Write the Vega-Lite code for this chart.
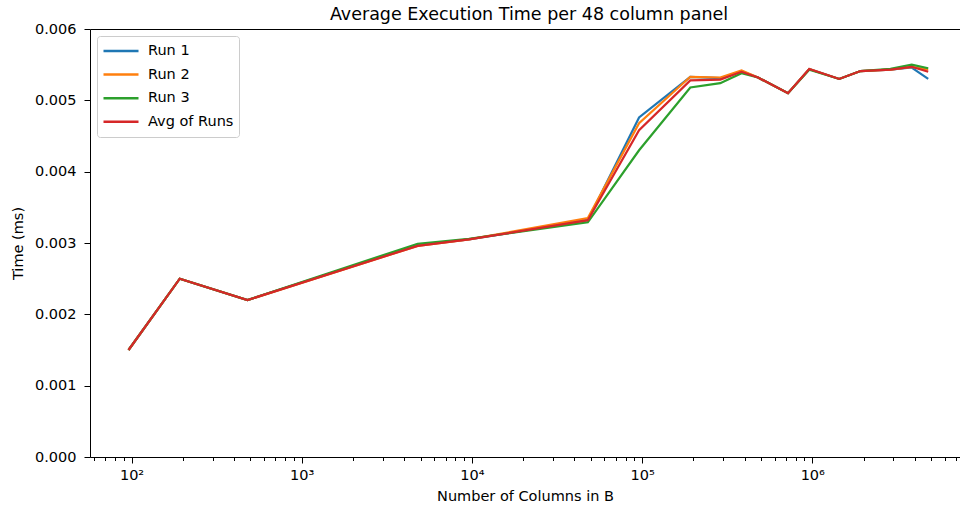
{
  "$schema": "https://vega.github.io/schema/vega-lite/v6.json",
  "width": 870,
  "height": 428,
  "autosize": {"type": "none"},
  "padding": {"left": 90, "top": 29, "right": 0, "bottom": 61},
  "title": {"text": "Average Execution Time per 48 column panel", "font": "DejaVu Sans", "fontSize": 17.5, "fontWeight": "normal", "color": "#000", "anchor": "middle", "offset": -2, "dx": 4},
  "config": {
    "view": {"stroke": null},
    "font": "DejaVu Sans",
    "axis": {"domainColor": "#000", "tickColor": "#000", "labelColor": "#000", "titleColor": "#000", "labelFont": "DejaVu Sans", "titleFont": "DejaVu Sans", "titleFontWeight": "normal", "grid": false}
  },
  "data": {"values": [
    {"cols": 96, "run": "Run 1", "time": 0.0015},
    {"cols": 192, "run": "Run 1", "time": 0.0025},
    {"cols": 480, "run": "Run 1", "time": 0.0022},
    {"cols": 4800, "run": "Run 1", "time": 0.00297},
    {"cols": 9600, "run": "Run 1", "time": 0.00305},
    {"cols": 48000, "run": "Run 1", "time": 0.00332},
    {"cols": 96000, "run": "Run 1", "time": 0.00476},
    {"cols": 192000, "run": "Run 1", "time": 0.00533},
    {"cols": 288000, "run": "Run 1", "time": 0.00531},
    {"cols": 384000, "run": "Run 1", "time": 0.00541},
    {"cols": 480000, "run": "Run 1", "time": 0.00532},
    {"cols": 720000, "run": "Run 1", "time": 0.0051},
    {"cols": 960000, "run": "Run 1", "time": 0.00544},
    {"cols": 1440000, "run": "Run 1", "time": 0.0053},
    {"cols": 1920000, "run": "Run 1", "time": 0.00541},
    {"cols": 2880000, "run": "Run 1", "time": 0.00543},
    {"cols": 3840000, "run": "Run 1", "time": 0.00546},
    {"cols": 4800000, "run": "Run 1", "time": 0.0053},
    {"cols": 96, "run": "Run 2", "time": 0.0015},
    {"cols": 192, "run": "Run 2", "time": 0.0025},
    {"cols": 480, "run": "Run 2", "time": 0.0022},
    {"cols": 4800, "run": "Run 2", "time": 0.00296},
    {"cols": 9600, "run": "Run 2", "time": 0.00305},
    {"cols": 48000, "run": "Run 2", "time": 0.00335},
    {"cols": 96000, "run": "Run 2", "time": 0.00468},
    {"cols": 192000, "run": "Run 2", "time": 0.00533},
    {"cols": 288000, "run": "Run 2", "time": 0.00532},
    {"cols": 384000, "run": "Run 2", "time": 0.00542},
    {"cols": 480000, "run": "Run 2", "time": 0.00532},
    {"cols": 720000, "run": "Run 2", "time": 0.0051},
    {"cols": 960000, "run": "Run 2", "time": 0.00544},
    {"cols": 1440000, "run": "Run 2", "time": 0.0053},
    {"cols": 1920000, "run": "Run 2", "time": 0.00541},
    {"cols": 2880000, "run": "Run 2", "time": 0.00543},
    {"cols": 3840000, "run": "Run 2", "time": 0.00547},
    {"cols": 4800000, "run": "Run 2", "time": 0.00543},
    {"cols": 96, "run": "Run 3", "time": 0.0015},
    {"cols": 192, "run": "Run 3", "time": 0.0025},
    {"cols": 480, "run": "Run 3", "time": 0.0022},
    {"cols": 4800, "run": "Run 3", "time": 0.00299},
    {"cols": 9600, "run": "Run 3", "time": 0.00306},
    {"cols": 48000, "run": "Run 3", "time": 0.00329},
    {"cols": 96000, "run": "Run 3", "time": 0.0043},
    {"cols": 192000, "run": "Run 3", "time": 0.00518},
    {"cols": 288000, "run": "Run 3", "time": 0.00524},
    {"cols": 384000, "run": "Run 3", "time": 0.00538},
    {"cols": 480000, "run": "Run 3", "time": 0.00532},
    {"cols": 720000, "run": "Run 3", "time": 0.0051},
    {"cols": 960000, "run": "Run 3", "time": 0.00543},
    {"cols": 1440000, "run": "Run 3", "time": 0.0053},
    {"cols": 1920000, "run": "Run 3", "time": 0.00541},
    {"cols": 2880000, "run": "Run 3", "time": 0.00544},
    {"cols": 3840000, "run": "Run 3", "time": 0.0055},
    {"cols": 4800000, "run": "Run 3", "time": 0.00545},
    {"cols": 96, "run": "Avg of Runs", "time": 0.0015},
    {"cols": 192, "run": "Avg of Runs", "time": 0.0025},
    {"cols": 480, "run": "Avg of Runs", "time": 0.0022},
    {"cols": 4800, "run": "Avg of Runs", "time": 0.00296},
    {"cols": 9600, "run": "Avg of Runs", "time": 0.00305},
    {"cols": 48000, "run": "Avg of Runs", "time": 0.00332},
    {"cols": 96000, "run": "Avg of Runs", "time": 0.00458},
    {"cols": 192000, "run": "Avg of Runs", "time": 0.00528},
    {"cols": 288000, "run": "Avg of Runs", "time": 0.00529},
    {"cols": 384000, "run": "Avg of Runs", "time": 0.0054},
    {"cols": 480000, "run": "Avg of Runs", "time": 0.00532},
    {"cols": 720000, "run": "Avg of Runs", "time": 0.0051},
    {"cols": 960000, "run": "Avg of Runs", "time": 0.00544},
    {"cols": 1440000, "run": "Avg of Runs", "time": 0.0053},
    {"cols": 1920000, "run": "Avg of Runs", "time": 0.00541},
    {"cols": 2880000, "run": "Avg of Runs", "time": 0.00543},
    {"cols": 3840000, "run": "Avg of Runs", "time": 0.00547},
    {"cols": 4800000, "run": "Avg of Runs", "time": 0.0054}
  ]},
  "layer": [
    {
      "mark": {"type": "line", "strokeWidth": 2.2},
      "encoding": {
        "x": {"field": "cols", "type": "quantitative", "scale": {"type": "log", "domain": [57.0, 7380000], "nice": false, "zero": false},
              "axis": {"orient": "bottom", "title": "Number of Columns in B", "titleFontSize": 14.5, "titlePadding": 8,
                       "values": [100, 1000, 10000, 100000, 1000000], "tickSize": 6, "tickWidth": 1, "domainWidth": 1,
                       "labelFontSize": 14.5, "labelPadding": 5,
                       "labelExpr": "round(log(datum.value)/LN10) == 2 ? '10²' : round(log(datum.value)/LN10) == 3 ? '10³' : round(log(datum.value)/LN10) == 4 ? '10⁴' : round(log(datum.value)/LN10) == 5 ? '10⁵' : '10⁶'"}},
        "y": {"field": "time", "type": "quantitative", "scale": {"domain": [0, 0.006], "nice": false},
              "axis": {"title": "Time (ms)", "titleFontSize": 14.5, "titlePadding": 9, "values": [0, 0.001, 0.002, 0.003, 0.004, 0.005, 0.006], "format": ".3f",
                       "tickSize": 6, "tickWidth": 1, "domainWidth": 1, "labelFontSize": 14.5, "labelPadding": 8}},
        "color": {"field": "run", "type": "nominal", "sort": ["Run 1", "Run 2", "Run 3", "Avg of Runs"],
                  "scale": {"domain": ["Run 1", "Run 2", "Run 3", "Avg of Runs"], "range": ["#1f77b4", "#ff7f0e", "#2ca02c", "#d62728"]},
                  "legend": {"title": null, "orient": "top-left", "offset": 7, "symbolType": "stroke", "symbolSize": 1225, "symbolStrokeWidth": 2.5,
                             "clipHeight": 20, "rowPadding": 3.6, "labelFontSize": 14.5, "labelOffset": 8, "labelColor": "#000",
                             "strokeColor": "#cccccc", "fillColor": "rgba(255,255,255,0.8)", "cornerRadius": 3, "padding": 5}}
      }
    },
    {
      "mark": {"type": "line", "opacity": 0},
      "encoding": {
        "x": {"field": "cols", "type": "quantitative",
              "axis": {"orient": "bottom", "title": null, "labels": false, "domain": false, "tickSize": 3.5, "tickWidth": 1,
                       "values": [60, 70, 80, 90, 200, 300, 400, 500, 600, 700, 800, 900, 2000, 3000, 4000, 5000, 6000, 7000, 8000, 9000, 20000, 30000, 40000, 50000, 60000, 70000, 80000, 90000, 200000, 300000, 400000, 500000, 600000, 700000, 800000, 900000, 2000000, 3000000, 4000000, 5000000, 6000000, 7000000]}},
        "y": {"field": "time", "type": "quantitative"}
      }
    },
    {
      "mark": {"type": "line", "opacity": 0},
      "encoding": {
        "x": {"field": "cols", "type": "quantitative",
              "axis": {"orient": "top", "title": null, "labels": false, "ticks": false, "domain": true, "domainWidth": 1}},
        "y": {"field": "time", "type": "quantitative"}
      }
    }
  ],
  "resolve": {"axis": {"x": "independent"}}
}
